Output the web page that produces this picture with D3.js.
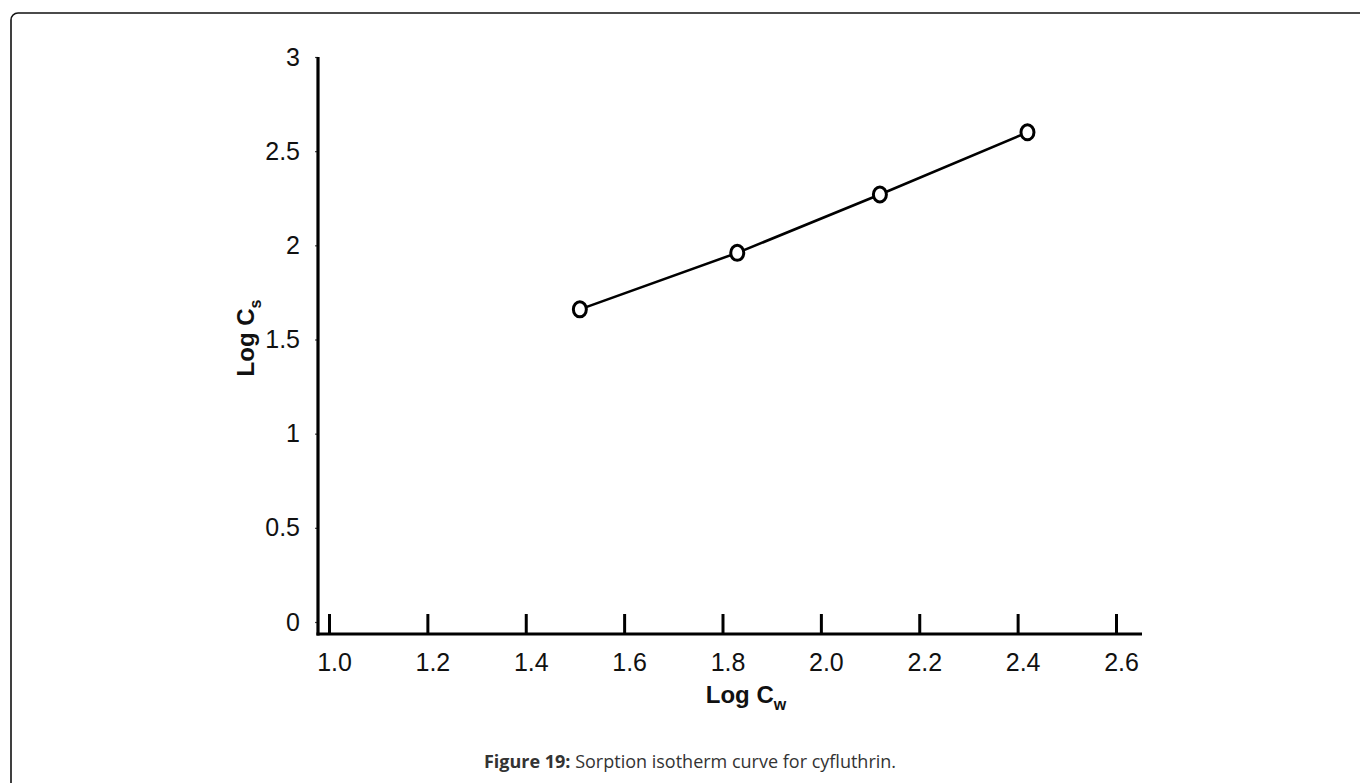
<!DOCTYPE html>
<html>
<head>
<meta charset="utf-8">
<script src="https://cdn.jsdelivr.net/npm/d3@7"></script>
<style>
  html, body { margin: 0; padding: 0; background: #fff; }
  svg { display: block; }
</style>
</head>
<body>
<svg id="chart" width="1360" height="783"></svg>
<script>
// Sorption isotherm of cyfluthrin: log Cw against log Cs
const logCw = [1.51, 1.83, 2.12, 2.42];
const logCs = [1.66, 1.96, 2.27, 2.60];
const xTicks = [1.0, 1.2, 1.4, 1.6, 1.8, 2.0, 2.2, 2.4, 2.6];
const yTicks = [0, 0.5, 1, 1.5, 2, 2.5, 3];

const svg = d3.select("#chart");
const W = 1360, H = 783;

// Frame around the figure (only its top-left corner falls inside the page)
svg.append("rect")
  .attr("x", 11).attr("y", 13)
  .attr("width", W + 20).attr("height", H + 20)
  .attr("rx", 7).attr("ry", 7)
  .attr("fill", "none").attr("stroke", "#111").attr("stroke-width", 1.6);

const x = d3.scaleLinear().domain([1.0, 2.6]).range([329, 1116]);
const y = d3.scaleLinear().domain([0, 3]).range([622, 57]);
const axisLeftX = 318;
const axisBottomY = y(0) + 12;

const font = "'Liberation Sans', Arial, sans-serif";

// Y axis
const yAxis = svg.append("g")
  .attr("transform", `translate(${axisLeftX},0)`)
  .call(d3.axisLeft(y).tickValues(yTicks).tickSize(3).tickPadding(15)
    .tickFormat(d => d3.format("")(d)));
yAxis.select(".domain").remove();
yAxis.selectAll(".tick line").attr("stroke", "#444").attr("stroke-width", 1.2);
yAxis.selectAll(".tick text")
  .attr("font-family", font).attr("font-size", 25).attr("fill", "#111");
svg.append("line")
  .attr("x1", axisLeftX).attr("x2", axisLeftX)
  .attr("y1", y(3)).attr("y2", axisBottomY + 1.5)
  .attr("stroke", "#000").attr("stroke-width", 3.2);

// X axis with ticks pointing up into the plot
const xAxis = svg.append("g")
  .attr("transform", `translate(0,${axisBottomY})`)
  .call(d3.axisBottom(x).tickValues(xTicks).tickSize(-20).tickPadding(0)
    .tickFormat(d3.format(".1f")));
xAxis.select(".domain").remove();
xAxis.selectAll(".tick line").attr("stroke", "#000").attr("stroke-width", 3);
xAxis.selectAll(".tick text")
  .attr("font-family", font).attr("font-size", 25).attr("fill", "#111")
  .attr("dx", 5).attr("dy", 37);
svg.append("line")
  .attr("x1", axisLeftX - 1.5).attr("x2", 1142)
  .attr("y1", axisBottomY).attr("y2", axisBottomY)
  .attr("stroke", "#000").attr("stroke-width", 3.2);

// Axis titles
const xt = svg.append("text")
  .attr("x", 746).attr("y", 703)
  .attr("text-anchor", "middle")
  .attr("font-family", font).attr("font-size", 24).attr("font-weight", "bold")
  .attr("fill", "#111");
xt.append("tspan").text("Log C");
xt.append("tspan").attr("font-size", 16).attr("dy", 7).text("w");

const yt = svg.append("text")
  .attr("transform", `translate(254,338) rotate(-90)`)
  .attr("text-anchor", "middle")
  .attr("font-family", font).attr("font-size", 24).attr("font-weight", "bold")
  .attr("fill", "#111");
yt.append("tspan").text("Log C");
yt.append("tspan").attr("font-size", 16).attr("dy", 7).text("s");

// Data line and open markers
const pts = logCw.map((v, i) => [v, logCs[i]]);
svg.append("path")
  .datum(pts)
  .attr("d", d3.line().x(d => x(d[0])).y(d => y(d[1])))
  .attr("fill", "none").attr("stroke", "#000").attr("stroke-width", 2.6);

svg.selectAll("ellipse.pt")
  .data(pts).enter().append("ellipse")
  .attr("class", "pt")
  .attr("cx", d => x(d[0])).attr("cy", d => y(d[1]))
  .attr("rx", 6.5).attr("ry", 7.5)
  .attr("fill", "#fff").attr("stroke", "#000").attr("stroke-width", 3);

// Caption
const cap = svg.append("text")
  .attr("x", 690).attr("y", 768)
  .attr("text-anchor", "middle")
  .attr("font-family", "'Open Sans', 'Noto Sans', sans-serif")
  .attr("font-size", 18).attr("fill", "#333");
cap.append("tspan").attr("font-weight", "bold").text("Figure 19:");
cap.append("tspan").text(" Sorption isotherm curve for cyfluthrin.");
</script>
</body>
</html>
